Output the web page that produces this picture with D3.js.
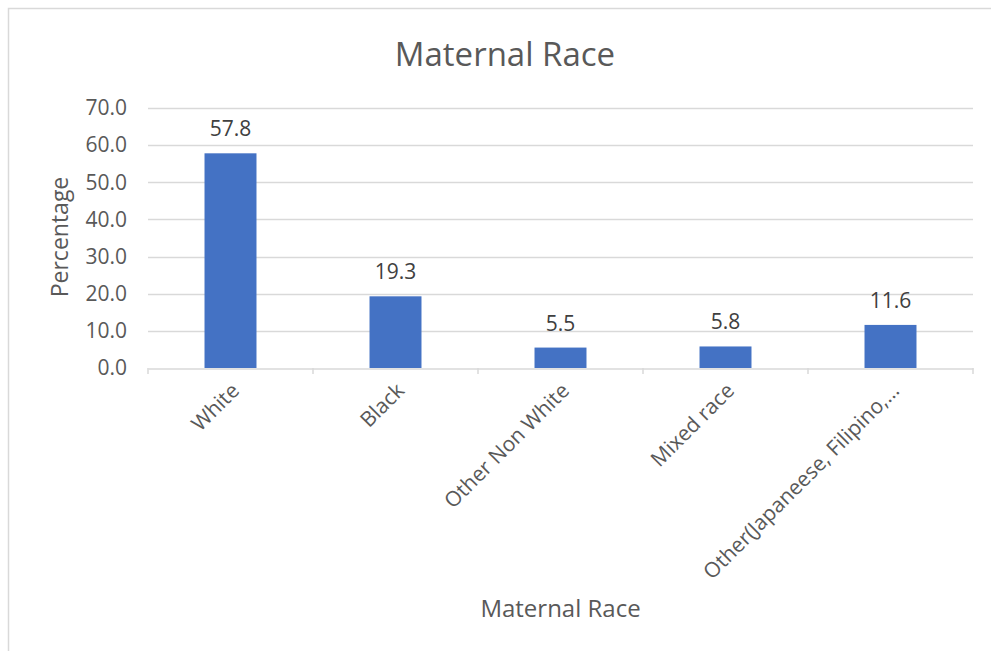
<!DOCTYPE html>
<html><head><meta charset="utf-8">
<script src="https://cdn.jsdelivr.net/npm/d3@7"></script>
<style>
html,body{margin:0;padding:0;background:#fff;}
svg{display:block;font-family:"Open Sans",sans-serif;}
</style></head>
<body><svg id="c" width="991" height="651"></svg>
<script>
const categories = ["White","Black","Other Non White","Mixed race","Other(Japaneese, Filipino,…"];
const values = [57.8,19.3,5.5,5.8,11.6];
const yTicks = [0,10,20,30,40,50,60,70];
const title = "Maternal Race";
const xTitle = "Maternal Race";
const yTitle = "Percentage";

const svg = d3.select("#c");
const W = 991, H = 651;
const m = {left:148, right:973, top:108, bottom:368};
const font = '"Open Sans",sans-serif';

// chart area border
svg.append("path").attr("d", `M8.5,${H} V8.5 H${W}`).attr("fill","none").attr("stroke","#d9d9d9").attr("stroke-width",1.5);

const x = d3.scaleBand().domain(categories).range([m.left, m.right]).paddingInner(0.685).paddingOuter(0.3425);
const xb = d3.scaleBand().domain(categories).range([m.left, m.right]);
const y = d3.scaleLinear().domain([0,70]).range([m.bottom, m.top]);

// gridlines
svg.append("g").selectAll("line").data(yTicks.filter(d=>d>0)).join("line")
  .attr("x1", m.left).attr("x2", m.right)
  .attr("y1", d=>Math.round(y(d))+0.5).attr("y2", d=>Math.round(y(d))+0.5)
  .attr("stroke","#d9d9d9").attr("stroke-width",1.3);

// y tick labels
const yAxis = d3.axisLeft(y).tickValues(yTicks).tickFormat(d3.format(".1f")).tickSize(0).tickPadding(0);
const gy = svg.append("g").attr("transform",`translate(${m.left-21},0)`).call(yAxis);
gy.select(".domain").remove();
gy.selectAll("text").attr("font-size",21).attr("fill","#595959").attr("font-family",font);

// bars
svg.append("g").selectAll("rect").data(values).join("rect")
  .attr("x",(d,i)=>x(categories[i])).attr("width",x.bandwidth())
  .attr("y",d=>y(d)).attr("height",d=>y(0)-y(d))
  .attr("fill","#4472c4");

// data labels
svg.append("g").selectAll("text").data(values).join("text")
  .attr("x",(d,i)=>x(categories[i])+x.bandwidth()/2)
  .attr("y",d=>y(d)-17)
  .attr("text-anchor","middle").attr("font-size",21).attr("fill","#404040")
  .attr("font-family",font).text(d=>d3.format(".1f")(d));

// x axis
const xAxis = d3.axisBottom(xb).tickSize(0).tickFormat(()=>"");
const gx = svg.append("g").attr("transform",`translate(0,${m.bottom+0.5})`).call(xAxis);
gx.select(".domain").attr("stroke","#d9d9d9").attr("stroke-width",1.5);
gx.selectAll(".tick").remove();
const bounds = categories.map(c=>xb(c)).concat([m.right]);
svg.append("g").selectAll("line").data(bounds).join("line")
  .attr("x1",d=>d).attr("x2",d=>d).attr("y1",m.bottom).attr("y2",m.bottom+6)
  .attr("stroke","#d9d9d9").attr("stroke-width",1.5);

// x labels rotated
svg.append("g").selectAll("text").data(categories).join("text")
  .attr("transform",c=>`translate(${xb(c)+xb.bandwidth()/2+10},${m.bottom+24}) rotate(-45)`)
  .attr("text-anchor","end").attr("font-size",21).attr("fill","#595959")
  .attr("font-family",font).text(c=>c);

// titles
svg.append("text").attr("x",505).attr("y",66).attr("text-anchor","middle")
  .attr("font-size",33).attr("fill","#595959").attr("font-family",font).text(title);
svg.append("text").attr("x",(m.left+m.right)/2).attr("y",617).attr("text-anchor","middle")
  .attr("font-size",24).attr("fill","#595959").attr("font-family",font).text(xTitle);
svg.append("text").attr("transform",`translate(68,237) rotate(-90)`).attr("text-anchor","middle")
  .attr("font-size",23).attr("fill","#595959").attr("font-family",font).text(yTitle);
</script></body></html>
